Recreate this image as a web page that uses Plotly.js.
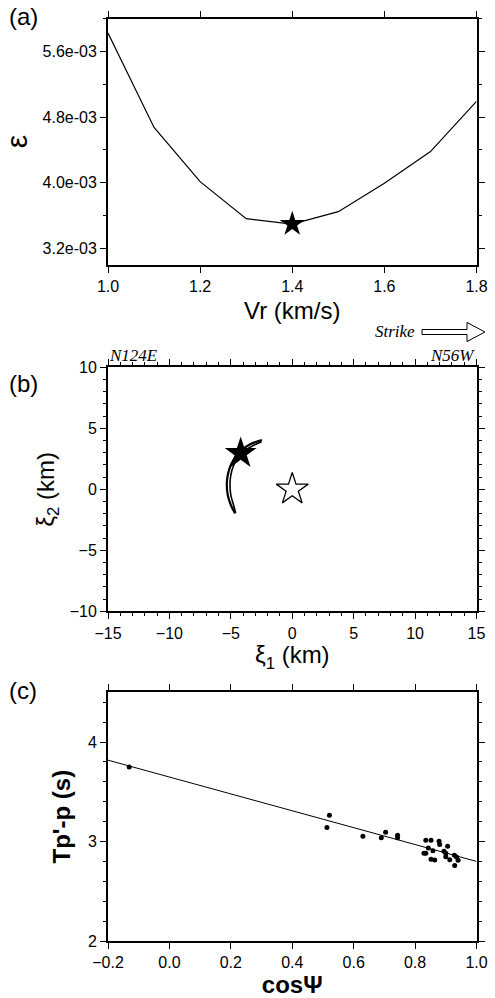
<!DOCTYPE html>
<html>
<head>
<meta charset="utf-8">
<script src="https://cdn.plot.ly/plotly-3.0.1.min.js"></script>
<style>
html,body{margin:0;padding:0;background:#fff;}
#chart{width:495px;height:998px;}
</style>
</head>
<body>
<div id="chart"></div>
<script>
// ---------- data ----------
// (a) misfit vs rupture velocity
const vr = [1.0, 1.1, 1.2, 1.3, 1.4, 1.5, 1.6, 1.7, 1.8];
const misfit = [5.825e-3, 4.673e-3, 4.012e-3, 3.560e-3, 3.495e-3, 3.646e-3, 3.993e-3, 4.379e-3, 4.991e-3];
const bestVr = [1.4];
const bestMisfit = [3.495e-3];
const misfitTickVals = [3.2e-3, 4.0e-3, 4.8e-3, 5.6e-3];
const misfitTickText = ['3.2e-03', '4.0e-03', '4.8e-03', '5.6e-03'];

// (b) trade-off arc in fault plane coordinates
const arcXi1A = [-4.65, -5.0, -5.25, -5.33, -5.25, -5.0, -4.65, -4.1, -3.43, -2.47];
const arcXi2A = [-1.97, -1.29, -0.47, 0.35, 1.17, 1.99, 2.62, 3.22, 3.69, 4.04];
const arcXi1B = [-4.6, -4.78, -5.0, -5.07, -5.0, -4.76, -4.4, -3.88, -3.25, -2.5];
const arcXi2B = [-1.95, -1.29, -0.47, 0.35, 1.17, 1.99, 2.62, 3.15, 3.55, 3.9];
const bestXi1 = [-4.2];
const bestXi2 = [2.95];
const hypoXi1 = [0];
const hypoXi2 = [0];

// (c) Tp'-p vs cos(psi)
const cosPsi = [-0.131, 0.521, 0.513, 0.630, 0.690, 0.704, 0.743, 0.743, 0.835, 0.852, 0.878, 0.880, 0.906, 0.843,
                0.858, 0.829, 0.835, 0.894, 0.900, 0.900, 0.852, 0.864, 0.913, 0.928, 0.935, 0.940, 0.929];
const tpp = [3.750, 3.263, 3.142, 3.054, 3.037, 3.094, 3.064, 3.037, 3.013, 3.013, 3.003, 2.970, 2.952, 2.936,
             2.906, 2.882, 2.882, 2.902, 2.882, 2.848, 2.821, 2.815, 2.818, 2.861, 2.845, 2.811, 2.760];
const fitX = [-0.2, 1.0];
const fitY = [3.818, 2.80];

// ---------- layout helpers ----------
const W = 495, H = 998;
const px = x => x / W;
const py = y => 1 - y / H;
const FONT = 'Liberation Sans, Arial, Helvetica, sans-serif';
const SERIF = 'Liberation Serif, Times New Roman, serif';

function axisBase(extra) {
  return Object.assign({
    showline: true, linecolor: '#000', linewidth: 2, mirror: 'allticks',
    ticks: 'outside', ticklen: 6, tickwidth: 1, tickcolor: '#000',
    showgrid: false, zeroline: false, fixedrange: true,
    tickfont: {family: FONT, size: 16, color: '#000'},
    automargin: false
  }, extra);
}

const xDom = [px(108), px(476.5)];

const traces = [
  {x: vr, y: misfit, xaxis: 'x', yaxis: 'y', mode: 'lines', line: {color: '#000', width: 1.2}, hoverinfo: 'skip'},
  {x: bestVr, y: bestMisfit, xaxis: 'x', yaxis: 'y', mode: 'markers',
   marker: {symbol: 'star', size: 19, color: '#000', line: {width: 0}}},

  {x: arcXi1A, y: arcXi2A, xaxis: 'x2', yaxis: 'y2', mode: 'lines', line: {color: '#000', width: 2.2, shape: 'spline'}},
  {x: arcXi1B, y: arcXi2B, xaxis: 'x2', yaxis: 'y2', mode: 'lines', line: {color: '#000', width: 1.6, shape: 'spline'}},
  {x: bestXi1, y: bestXi2, xaxis: 'x2', yaxis: 'y2', mode: 'markers',
   marker: {symbol: 'star', size: 24, color: '#000', line: {width: 0}}},
  {x: hypoXi1, y: hypoXi2, xaxis: 'x2', yaxis: 'y2', mode: 'markers',
   marker: {symbol: 'star', size: 24, color: '#fff', line: {width: 1.3, color: '#000'}}},

  {x: fitX, y: fitY, xaxis: 'x3', yaxis: 'y3', mode: 'lines', line: {color: '#000', width: 1}},
  {x: cosPsi, y: tpp, xaxis: 'x3', yaxis: 'y3', mode: 'markers', marker: {symbol: 'circle', size: 5, color: '#000'}}
];

const titleFont = {family: FONT, size: 24, color: '#000'};
const epsFont = {family: FONT, size: 30, color: '#000'};
const boldTitleFont = {family: FONT, size: 24, color: '#000', weight: 'bold'};

const layout = {
  width: W, height: H,
  margin: {l: 0, r: 0, t: 0, b: 0},
  paper_bgcolor: '#fff', plot_bgcolor: '#fff',
  showlegend: false,
  xaxis: axisBase({domain: xDom, anchor: 'y', range: [1.0, 1.8], dtick: 0.2, tick0: 0, tickformat: '.1f',
    title: {text: 'Vr (km/s)', font: titleFont, standoff: 8}}),
  yaxis: axisBase({domain: [py(264.6), py(18.7)], anchor: 'x', range: [3.0e-3, 6.0e-3],
    tickmode: 'array', tickvals: misfitTickVals, ticktext: misfitTickText,
    minor: {dtick: 0.0004, tick0: 0, ticklen: 3, tickcolor: '#000', ticks: 'outside'},
    title: {text: 'ε', font: epsFont, standoff: 6}}),

  xaxis2: axisBase({domain: xDom, anchor: 'y2', range: [-15, 15], dtick: 5, tick0: 0,
    minor: {dtick: 1, tick0: 0, ticklen: 3, tickcolor: '#000', ticks: 'outside'},
    title: {text: 'ξ<sub>1</sub> (km)', font: titleFont, standoff: 4}}),
  yaxis2: axisBase({domain: [py(611.3), py(367.3)], anchor: 'x2', range: [-10, 10], dtick: 5, tick0: 0,
    minor: {dtick: 1, tick0: 0, ticklen: 3, tickcolor: '#000', ticks: 'outside'},
    title: {text: 'ξ<sub>2</sub> (km)', font: titleFont, standoff: 8}}),

  xaxis3: axisBase({domain: xDom, anchor: 'y3', range: [-0.2, 1.0], dtick: 0.2, tick0: 0, tickformat: '.1f',
    title: {text: 'cosΨ', font: boldTitleFont, standoff: 4}}),
  yaxis3: axisBase({domain: [py(941), py(692.3)], anchor: 'x3', range: [2, 4.5], dtick: 1, tick0: 0,
    minor: {dtick: 0.2, tick0: 0, ticklen: 3, tickcolor: '#000', ticks: 'outside'},
    title: {text: "Tp'-p (s)", font: boldTitleFont, standoff: 10}}),

  annotations: [
    {text: '(a)', xref: 'paper', yref: 'paper', x: px(7), y: py(16), xanchor: 'left', yanchor: 'middle', showarrow: false,
     font: {family: FONT, size: 24, color: '#000'}},
    {text: '(b)', xref: 'paper', yref: 'paper', x: px(7), y: py(383), xanchor: 'left', yanchor: 'middle', showarrow: false,
     font: {family: FONT, size: 24, color: '#000'}},
    {text: '(c)', xref: 'paper', yref: 'paper', x: px(7), y: py(690), xanchor: 'left', yanchor: 'middle', showarrow: false,
     font: {family: FONT, size: 24, color: '#000'}},
    {text: '<i>N124E</i>', xref: 'paper', yref: 'paper', x: px(107), y: py(355), xanchor: 'left', yanchor: 'middle', showarrow: false,
     font: {family: SERIF, size: 17, color: '#000'}},
    {text: '<i>N56W</i>', xref: 'paper', yref: 'paper', x: px(477), y: py(355), xanchor: 'right', yanchor: 'middle', showarrow: false,
     font: {family: SERIF, size: 17, color: '#000'}},
    {text: '<i>Strike</i>', xref: 'paper', yref: 'paper', x: px(417), y: py(331), xanchor: 'right', yanchor: 'middle', showarrow: false,
     font: {family: SERIF, size: 17, color: '#000'}}
  ],
  shapes: [
    {type: 'path', xref: 'paper', yref: 'paper',
     path: 'M ' + px(422) + ',' + py(329.5) + ' L ' + px(467) + ',' + py(329.5) + ' L ' + px(467) + ',' + py(322.5) +
           ' L ' + px(485) + ',' + py(332) + ' L ' + px(467) + ',' + py(341.5) + ' L ' + px(467) + ',' + py(334.5) +
           ' L ' + px(422) + ',' + py(334.5) + ' Z',
     line: {color: '#000', width: 1}, fillcolor: '#fff'}
  ]
};

Plotly.newPlot('chart', traces, layout, {staticPlot: true, displayModeBar: false});
</script>
</body>
</html>
